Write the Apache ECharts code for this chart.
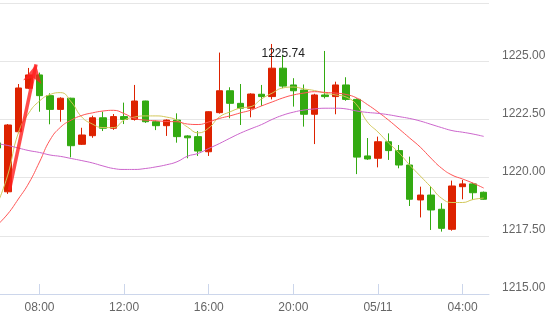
<!DOCTYPE html>
<html>
<head>
<meta charset="utf-8">
<script src="https://cdn.jsdelivr.net/npm/echarts@6/dist/echarts.min.js"></script>
<style>html,body{margin:0;padding:0;background:#fff}#c{width:550px;height:314px}</style>
</head>
<body>
<div id="c"></div>
<script>
const categories = ['06:00','06:30','07:00','07:30','08:00','08:30','09:00','09:30','10:00','10:30','11:00','11:30',
  '12:00','12:30','13:00','13:30','14:00','14:30','15:00','15:30','16:00','16:30','17:00','17:30',
  '18:00','18:30','19:00','19:30','20:00','20:30','21:00','21:30','22:00','22:30','23:00','23:30',
  '05/11','00:30','01:00','01:30','02:00','02:30','03:00','03:30','04:00','04:30','05:00'];

// [open, close, low, high]
const ohlc = [
  [1221.49,1221.27,1221.10,1221.60],
  [1219.39,1222.26,1219.30,1222.30],
  [1221.97,1223.85,1221.90,1224.02],
  [1223.84,1224.41,1223.80,1224.71],
  [1224.41,1223.52,1222.83,1224.51],
  [1223.52,1222.93,1222.29,1223.62],
  [1222.93,1223.41,1222.40,1223.45],
  [1223.41,1221.37,1220.87,1223.43],
  [1221.43,1221.83,1221.40,1222.14],
  [1221.80,1222.57,1221.71,1222.66],
  [1222.57,1222.12,1222.00,1222.83],
  [1222.12,1222.62,1222.05,1222.73],
  [1222.62,1222.50,1222.30,1223.22],
  [1222.50,1223.29,1222.45,1223.98],
  [1223.29,1222.40,1222.35,1223.30],
  [1222.40,1222.23,1222.04,1222.45],
  [1222.23,1222.47,1221.79,1222.50],
  [1222.47,1221.76,1221.50,1222.76],
  [1221.79,1221.71,1220.83,1221.82],
  [1221.76,1221.14,1220.93,1222.00],
  [1221.11,1222.83,1220.93,1222.85],
  [1222.79,1223.73,1222.75,1225.37],
  [1223.73,1223.19,1222.55,1223.88],
  [1223.19,1222.98,1222.26,1224.02],
  [1222.98,1223.59,1222.59,1223.62],
  [1223.58,1223.48,1223.08,1223.98],
  [1223.48,1224.70,1223.36,1225.74],
  [1224.70,1223.93,1223.84,1225.27],
  [1223.98,1223.73,1223.05,1224.27],
  [1223.76,1222.72,1222.19,1224.00],
  [1222.72,1223.55,1221.44,1223.60],
  [1223.55,1223.48,1223.40,1225.44],
  [1223.48,1223.98,1222.72,1224.12],
  [1223.98,1223.36,1223.30,1224.31],
  [1223.36,1220.88,1220.15,1223.40],
  [1220.93,1220.80,1220.76,1221.70],
  [1220.83,1221.54,1220.44,1221.76],
  [1221.54,1221.16,1220.76,1221.90],
  [1221.16,1220.54,1220.40,1221.40],
  [1220.54,1219.07,1218.78,1220.90],
  [1219.04,1219.25,1218.29,1219.61],
  [1219.25,1218.61,1217.75,1219.64],
  [1218.64,1217.82,1217.68,1218.90],
  [1217.78,1219.64,1217.72,1219.87],
  [1219.61,1219.73,1219.07,1219.90],
  [1219.73,1219.35,1219.04,1219.78],
  [1219.37,1219.07,1219.05,1219.40]
];

const maYellow = [1218.85,1220.11,1221.92,1222.78,1223.29,1223.57,1223.65,1223.25,1222.60,1222.30,1222.15,1222.15,
  1222.47,1222.60,1222.65,1222.65,1222.60,1222.47,1222.17,1221.92,1222.13,1222.60,1222.82,1222.99,
  1223.05,1223.38,1223.63,1223.85,1223.89,1223.81,1223.74,1223.63,1223.55,1223.46,1223.12,1222.39,
  1221.96,1221.49,1221.06,1220.54,1220.07,1219.60,1219.12,1218.93,1218.93,1219.06,1219.12];

const maRed = [1217.96,1218.44,1219.08,1219.77,1220.67,1221.62,1222.17,1222.47,1222.67,1222.78,1222.86,1222.89,
  1222.75,1222.54,1222.47,1222.44,1222.41,1222.40,1222.30,1222.28,1222.39,1222.54,1222.65,1222.78,
  1222.90,1223.08,1223.25,1223.42,1223.55,1223.63,1223.69,1223.66,1223.63,1223.57,1223.42,1223.14,
  1222.82,1222.47,1222.09,1221.70,1221.31,1220.84,1220.41,1220.11,1219.94,1219.76,1219.55];

const maPurple = [1221.46,1221.38,1221.27,1221.16,1221.08,1220.97,1220.91,1220.82,1220.73,1220.63,1220.50,1220.39,
  1220.35,1220.35,1220.39,1220.46,1220.55,1220.68,1220.92,1221.04,1221.25,1221.46,1221.69,1221.91,
  1222.10,1222.28,1222.50,1222.68,1222.81,1222.90,1222.95,1222.98,1222.98,1222.95,1222.86,1222.80,
  1222.76,1222.70,1222.62,1222.54,1222.43,1222.29,1222.15,1222.02,1221.95,1221.87,1221.77];

const yTicks = [1215, 1217.5, 1220, 1222.5, 1225, 1227.5];
const highLabel = ['19:00', 1225.74, '1225.74'];
// arrow annotation in (candle index, price) space
const arrowFrom = [1.15, 1219.45];
const arrowTo = [3.67, 1224.86];

const FONT = '"Liberation Sans", Arial, sans-serif';
const chart = echarts.init(document.getElementById('c'), null, {renderer: 'canvas'});
chart.setOption({
  animation: false,
  backgroundColor: '#fff',
  grid: {left: -8.1, right: 61, top: 3, bottom: 20, containLabel: false, outerBoundsMode: 'none'},
  xAxis: [{
    type: 'category',
    data: categories,
    boundaryGap: true,
    axisLine: {lineStyle: {color: '#ccd6eb'}},
    axisTick: {show: true, inside: true, length: 10, alignWithLabel: true,
      interval: (i) => i % 8 === 4, lineStyle: {color: '#ccd6eb'}},
    axisLabel: {interval: (i) => i % 8 === 4, color: '#666', fontSize: 12, fontFamily: FONT, margin: 8},
    splitLine: {show: false}
  }, {
    type: 'value', min: -0.5, max: 46.5, show: false
  }],
  yAxis: {
    type: 'value', position: 'right',
    min: yTicks[0], max: yTicks[yTicks.length - 1], interval: 2.5,
    axisLine: {show: true, lineStyle: {color: '#dfe2ec'}},
    axisTick: {show: false},
    splitLine: {lineStyle: {color: '#e6e6e6'}},
    axisLabel: {showMaxLabel: false, color: '#666', fontSize: 12, fontFamily: FONT, margin: 13,
      verticalAlign: 'bottom', formatter: (v) => v.toFixed(2)}
  },
  series: [{
    type: 'candlestick',
    data: ohlc,
    barWidth: 7,
    itemStyle: {color: '#dd2200', color0: '#33aa11', borderColor: '#dd2200', borderColor0: '#33aa11', borderWidth: 1},
    markPoint: {
      symbol: 'circle', symbolSize: 1, itemStyle: {color: 'rgba(0,0,0,0)'},
      label: {show: true, position: 'inside', offset: [11, 10], color: '#222', fontSize: 12, fontFamily: FONT,
        formatter: highLabel[2]},
      data: [{coord: [highLabel[0], highLabel[1]]}]
    }
  }, {
    type: 'line', data: maYellow, smooth: true, symbol: 'none',
    lineStyle: {color: '#d2c75a', width: 1}, z: 3
  }, {
    type: 'line', data: maRed, smooth: true, symbol: 'none',
    lineStyle: {color: '#ff5555', width: 1}, z: 3
  }, {
    type: 'line', data: maPurple, smooth: true, symbol: 'none',
    lineStyle: {color: '#cc66cc', width: 1}, z: 3
  }, {
    type: 'line', xAxisIndex: 1, data: [arrowFrom, arrowTo], symbol: 'none',
    lineStyle: {opacity: 0}, z: 5,
    markLine: {
      silent: true, symbol: ['none', 'arrow'], symbolSize: [14, 18],
      label: {show: false},
      lineStyle: {color: 'rgba(255,30,30,0.8)', width: 3.5, type: 'solid'},
      data: [[{coord: arrowFrom}, {coord: arrowTo}]]
    }
  }]
});
</script>
</body>
</html>
